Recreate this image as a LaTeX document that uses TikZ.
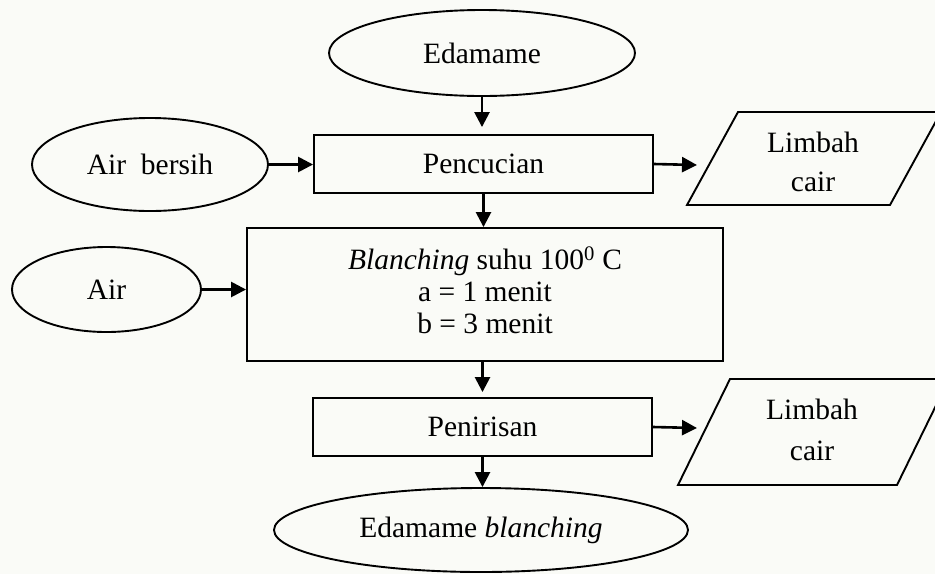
\documentclass[tikz,border=0pt]{standalone}
\usepackage{fontspec}
\setmainfont{Liberation Serif}
\usetikzlibrary{shapes.geometric,arrows.meta}
\definecolor{paper}{RGB}{250,251,247}
\tikzset{
  shapeline/.style={draw=black,line width=1.9pt},
  oval/.style={shapeline,ellipse,inner sep=0pt},
  stepbox/.style={shapeline,rectangle,inner sep=0pt,align=center},
  arr/.style={line width=2.6pt,-{Triangle[length=15pt,width=15pt]}},
  txt/.style={font=\fontsize{29.5}{33}\selectfont}
}
\begin{document}
\begin{tikzpicture}[x=1pt,y=-1pt,every node/.style={txt}]
  % page
  \fill[paper] (0,0) rectangle (935,574);
  \useasboundingbox (0,0) rectangle (935,574);

  % start and side inputs
  \node[oval,minimum width=306pt,minimum height=86pt] (e1) at (482,53) {Edamame};
  \node[oval,minimum width=236pt,minimum height=93pt] (ab) at (150,164.5) {Air\ \ bersih};
  \node[oval,minimum width=189pt,minimum height=85pt] (air) at (106.5,289.5) {Air};

  % process steps
  \node[stepbox,minimum width=339pt,minimum height=58pt] (pc) at (483.5,164) {Pencucian};
  \node[stepbox,minimum width=476pt,minimum height=133pt] (bl) at (485,294.5) {};
  \node[align=center,font=\fontsize{29.5}{32}\selectfont] (blt) at (485,290)
    {\textit{Blanching} suhu 100\textsuperscript{0} C\\a = 1 menit\\b = 3 menit};
  \node[stepbox,minimum width=339pt,minimum height=58pt] (pn) at (482.5,427) {Penirisan};

  % result
  \node[oval,minimum width=414pt,minimum height=84pt] (ef) at (481,530) {Edamame \textit{blanching}};

  % waste outputs (parallelograms)
  \draw[shapeline] (687,205) -- (738,112) -- (941,112) -- (890,205) -- cycle;
  \node[align=center,font=\fontsize{29.5}{39}\selectfont] (l1) at (813,162) {Limbah\\cair};
  \coordinate (l1in) at (697,165);
  \draw[shapeline] (678,485) -- (730,379) -- (949,379) -- (897,485) -- cycle;
  \node[align=center,font=\fontsize{29.5}{41}\selectfont] (l2) at (812,430) {Limbah\\cair};
  \coordinate (l2in) at (697,428);

  % flow
  \draw[arr,shorten >=7pt] (e1.south) -- (e1.south |- pc.north);
  \draw[arr] (ab.east) -- (ab.east -| pc.west);
  \draw[arr] (pc.east) -- (l1in);
  \draw[arr] (pc.south) -- (pc.south |- bl.north);
  \draw[arr] (air.east) -- (air.east -| bl.west);
  \draw[arr,shorten >=5pt] (pn.north |- bl.south) -- (pn.north);
  \draw[arr] (pn.east) -- (l2in);
  \draw[arr] (pn.south) -- (pn.south |- ef.north);
\end{tikzpicture}
\end{document}
